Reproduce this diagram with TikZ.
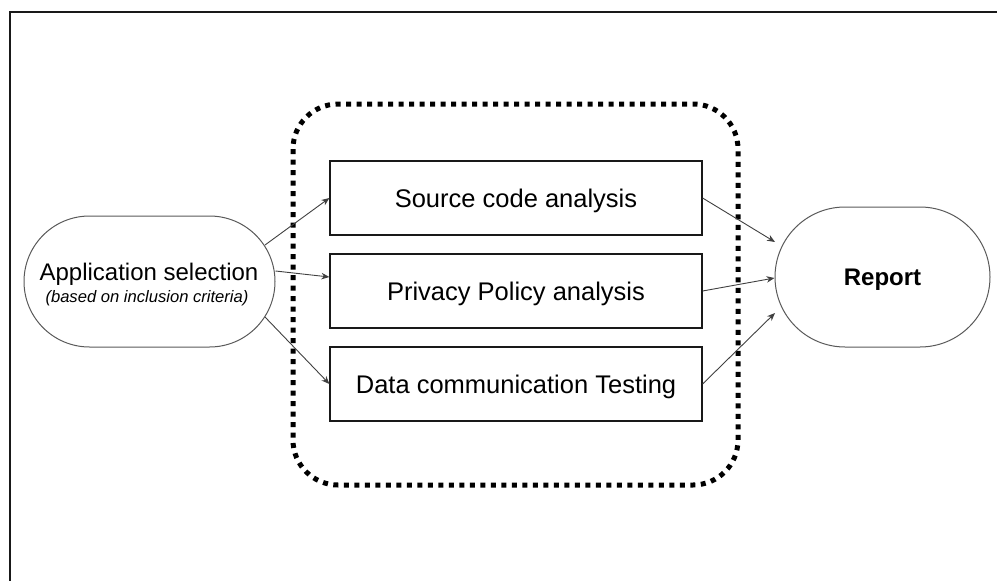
\documentclass[tikz,border=0pt]{standalone}
\usepackage{fontspec}
\setmainfont{Liberation Sans}
\usetikzlibrary{arrows.meta,calc,shapes.misc}
\begin{document}
\begin{tikzpicture}[x=1pt,y=-1pt,
  frameline/.style={draw=black!90,line width=1.3},
  terminal/.style={draw=black!65,line width=1,rounded rectangle,inner sep=0},
  stepbox/.style={draw=black!90,line width=1.2,minimum width=372,minimum height=74,inner sep=0,
    font=\fontsize{25.5}{30}\selectfont,text height=18.3pt,text depth=0pt},
  groupbox/.style={draw=black,line width=5,dash pattern=on 5 off 5.5,rounded corners=45},
  conn/.style={draw=black!75,line width=0.9,-{Stealth[length=8,width=6.5]}}
]
\useasboundingbox (0,0) rectangle (997,581);
\draw[frameline] (997,12) -- (10,12) -- (10,581);
% group
\draw[groupbox] (293,104) rectangle (738,485);
% nodes
\node[terminal,minimum width=251,minimum height=131] (app) at (149.5,281.5) {};
\node[anchor=base,font=\fontsize{24}{28}\selectfont] (apptitle) at (149,280) {Application selection};
\node[anchor=base,font=\fontsize{16.6}{20}\selectfont\itshape] (appsub) at (147,302) {(based on inclusion criteria)};
\node[stepbox] (b1) at (516,198) {Source code analysis};
\node[stepbox] (b2) at (516,291) {Privacy Policy analysis};
\node[stepbox] (b3) at (516,384) {Data communication Testing};
\node[terminal,minimum width=215,minimum height=140,font=\fontsize{24}{28}\selectfont\bfseries,
  text height=17.2pt,text depth=0pt] (rep) at (882.5,277) {Report};
% connectors
\draw[conn] ($(app.center)+(115.5,-36.5)$) -- (b1.west);
\draw[conn] ($(app.east)+(0,-10.5)$) -- ($(b2.west)+(0,-14)$);
\draw[conn] ($(app.center)+(115.5,35.5)$) -- (b3.west);
\draw[conn] (b1.east) -- ($(rep.center)+(-107.5,-35)$);
\draw[conn] (b2.east) -- ($(rep.west)+(0,1)$);
\draw[conn] (b3.east) -- ($(rep.center)+(-107.5,36)$);
\end{tikzpicture}
\end{document}
